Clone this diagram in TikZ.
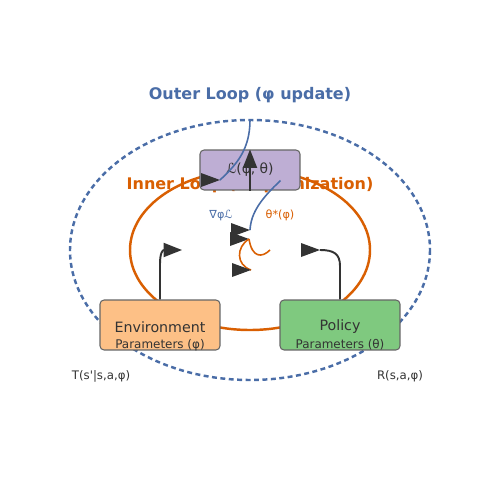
\documentclass[tikz,border=0pt]{standalone}
\usepackage{fontspec}
\setmainfont{DejaVu Sans}
\usetikzlibrary{arrows.meta, positioning}
\definecolor{outerblue}{HTML}{4A6DA7}
\definecolor{innerorange}{HTML}{D95F02}
\definecolor{ink}{HTML}{333333}
\definecolor{envfill}{HTML}{FDC086}
\definecolor{polfill}{HTML}{7FC97F}
\definecolor{lossfill}{HTML}{BEAED4}

\begin{document}
\begin{tikzpicture}[x=0.02cm, y=-0.02cm,
  box/.style={draw=black!60, line width=0.6pt, rounded corners=2.3pt, inner sep=0pt, minimum width=2.4cm, minimum height=1cm},
  flow/.style={ink, line width=1.1pt},
  tip/.style={-{Triangle[length=10.5pt, width=8pt]}},
  flag/.pic={\fill[ink] (0,0) -- (-19,-7) -- (-19,7) -- cycle;},
  small/.style={font=\fontsize{6.4}{7}\selectfont}]
\useasboundingbox (0,0) rectangle (500,500);
% the two loops
\draw[outerblue, line width=1.4pt, dash pattern=on 2.8pt off 2pt] (250,250) ellipse [x radius=180, y radius=130];
\draw[innerorange, line width=1.4pt] (250,250) ellipse [x radius=120, y radius=80];
\node[outerblue, font=\fontsize{9.1}{11}\bfseries] (outer) at (250,95) {Outer Loop (φ update)};
\node[innerorange, font=\fontsize{9.1}{11}\bfseries] (inner) at (250,185) {Inner Loop (θ optimization)};
% boxes
\node[box, fill=lossfill, minimum width=2cm, minimum height=0.8cm] (loss) at (250,170) {};
\node[text=ink, font=\fontsize{7.9}{9}\selectfont] at (loss) {ℒ(φ, θ)};
\node[box, fill=envfill] (env) at (160,325) {};
\node[text=ink, font=\fontsize{8.1}{9}\selectfont] (envname) at (160,327) {Environment};
\node[text=ink, font=\fontsize{6.8}{8}\selectfont] (envpar) at (160,345) {Parameters (φ)};
\node[box, fill=polfill] (pol) at (340,325) {};
\node[text=ink, font=\fontsize{8.1}{9}\selectfont] (polname) at (340,327) {Policy};
\node[text=ink, font=\fontsize{6.8}{8}\selectfont] (polpar) at (340,345) {Parameters (θ)};
% arrows
\coordinate (envend) at (182,250);
\coordinate (polend) at (320,250);
\draw[flow, tip] (env.north) -- (160,264) .. controls (160,252) and (163,250) .. (envend);
\draw[flow] (pol.north) -- (340,266) .. controls (340,254) and (334,250) .. (polend);
\pic at (polend) {flag};
\draw[flow, tip] (loss.south) -- (loss.north);
% gradient and response
\coordinate (top) at (250,120);
\coordinate (gradend) at (220,180);
\coordinate (respend) at (250,230);
\coordinate (optend) at (249,239);
\coordinate (lowend) at (251,270);
\draw[outerblue, line width=0.9pt] (top) .. controls (250,150) and (236,165) .. (gradend);
\pic at (gradend) {flag};
\draw[outerblue, line width=0.9pt] (loss.south east) ++(-20,-10) .. controls (262,198) and (251,212) .. (respend);
\pic at (respend) {flag};
\pic at (optend) {flag};
\draw[innerorange, line width=0.9pt] (270,250) .. controls (262,258) and (252,258) .. (optend);
\draw[innerorange, line width=0.9pt] (optend) .. controls (236,247) and (236,265) .. (lowend);
\pic at (lowend) {flag};
% labels
\node[outerblue, small] (grad) at (221,215) {∇φℒ};
\node[innerorange, small] (resp) at (280,215) {θ*(φ)};
\node[text=ink, font=\fontsize{6.7}{8}\selectfont] (trans) at (101,376) {T(s\textquotesingle|s,a,φ)};
\node[text=ink, font=\fontsize{6.7}{8}\selectfont] (rew) at (400,376) {R(s,a,φ)};
\end{tikzpicture}
\end{document}
